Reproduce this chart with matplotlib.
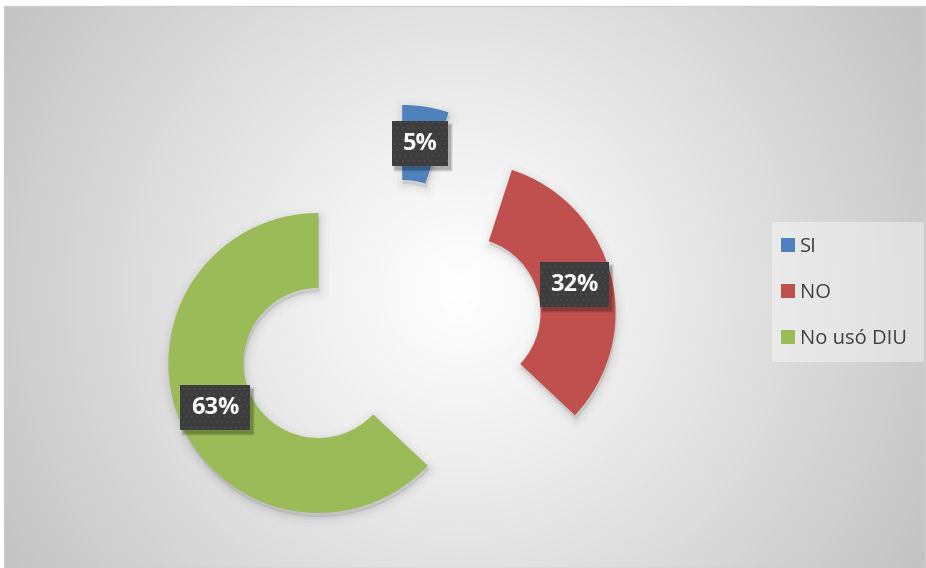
import numpy as np
import matplotlib
matplotlib.use("Agg")
import matplotlib.pyplot as plt
from matplotlib.patches import Wedge, Rectangle

# Data
categories = ["SI", "NO", "No usó DIU"]
shares = [5, 32, 63]
colors = ["#4f81bd", "#c0504d", "#9bbb59"]

W, H = 926, 568
plt.rcParams["font.family"] = ["Open Sans", "DejaVu Sans"]
plt.rcParams["hatch.linewidth"] = 0.8

fig = plt.figure(figsize=(W / 100, H / 100), dpi=100)
ax = fig.add_axes([0, 0, 1, 1])

# Radial gradient chart area background
x0, x1, y0, y1 = 4, 925, 0, 562
xs = np.linspace(x0, x1, 400)
ys = np.linspace(y0, y1, 250)
X, Y = np.meshgrid(xs, ys)
cx, cy = 460, 278
d = np.hypot(X - cx, Y - cy)
d = d / d.max()
light = 1.0 - 0.24 * np.clip(d, 0, 1) ** 1.1
img = np.dstack([light, light, light])
ax.imshow(img, extent=(x0, x1, y0, y1), origin="lower", zorder=0,
          interpolation="bilinear", aspect="auto")
ax.add_patch(Rectangle((x0, y0), x1 - x0, y1 - y0, fill=False,
                       edgecolor="#cfcfcf", lw=1, zorder=1))

# Exploded doughnut
radius = 150
wedges, _, autotexts = ax.pie(
    shares, colors=colors, startangle=90, counterclock=False,
    radius=radius, center=(390, 236), explode=[78] * 3,
    wedgeprops=dict(width=radius * 0.5, linewidth=0, zorder=3),
    autopct=lambda p: f"{p:.0f}%", pctdistance=0.75,
    textprops=dict(color="white", fontsize=17, fontweight="bold", zorder=6),
)

# Soft shadow under each slice
for w in wedges:
    for lw, a in [(14, 0.012), (9, 0.018), (5, 0.025), (2, 0.03)]:
        sh = Wedge((w.center[0] + 1, w.center[1] - 4), w.r, w.theta1, w.theta2,
                   width=w.width, facecolor=(0, 0, 0, a), edgecolor=(0, 0, 0, a),
                   lw=lw, joinstyle="round", zorder=2)
        ax.add_patch(sh)

# Dark callout boxes for the percentage labels
for t in autotexts:
    t.set_bbox(dict(boxstyle="square,pad=0.45", facecolor="#3d3d3d",
                    edgecolor="#4a4a4a", linewidth=0, hatch="..."))
    t.set_zorder(6)

ax.set_xlim(0, W)
ax.set_ylim(0, H)
ax.set_aspect("auto")
ax.axis("off")

# Drop shadows behind the callout boxes
fig.canvas.draw()
inv = ax.transData.inverted()
for t in autotexts:
    ext = t.get_bbox_patch().get_window_extent()
    (bx0, by0), (bx1, by1) = inv.transform([[ext.x0, ext.y0], [ext.x1, ext.y1]])
    for grow, a in [(2.0, 0.06), (1.0, 0.1), (0.0, 0.14)]:
        ax.add_patch(Rectangle((bx0 + 3 - grow, by0 - 4 - grow),
                               bx1 - bx0 + 2 * grow, by1 - by0 + 2 * grow,
                               facecolor=(0, 0, 0, a), edgecolor="none", zorder=5))

# Legend panel
ax.add_patch(Rectangle((772, H - 362), 152, 140, facecolor="white", alpha=0.4,
                       edgecolor="none", zorder=2))
leg = ax.legend(wedges, categories, loc="upper left",
                bbox_to_anchor=(773 / W, (H - 229) / H), frameon=False,
                fontsize=14.5, handlelength=0.68, handleheight=0.68,
                handletextpad=0.25, labelspacing=1.3, borderaxespad=0)
for txt in leg.get_texts():
    txt.set_color("#404040")

fig.savefig("out.png", dpi=100)
